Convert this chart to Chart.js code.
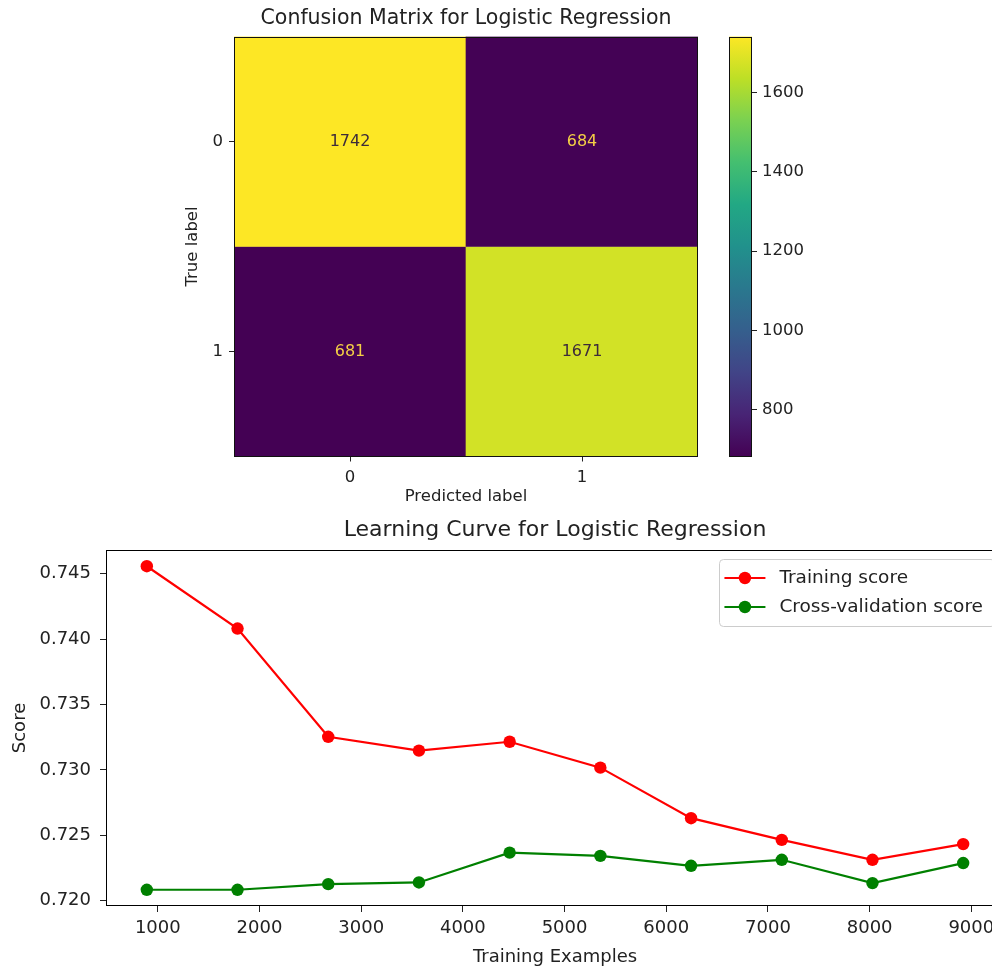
<!DOCTYPE html>
<html>
<head>
<meta charset="utf-8">
<script src="https://cdn.jsdelivr.net/npm/chart.js@4.4.1/dist/chart.umd.min.js"></script>
<style>
  html, body { margin: 0; padding: 0; background: #fff; width: 992px; height: 972px; overflow: hidden; }
  canvas { position: absolute; display: block; }
  #cm { left: 0; top: 0; }
  #cb { left: 700px; top: 0; }
  #lc { left: 0; top: 505px; }
</style>
</head>
<body>
<canvas id="cm" width="720" height="515"></canvas>
<canvas id="cb" width="110" height="515"></canvas>
<canvas id="lc" width="1012" height="467"></canvas>
<script>
// ---- confusion matrix ----
const classLabels = ['0', '1'];
const countsTrue0 = [1742, 684];   // true label 0: predicted 0, predicted 1
const countsTrue1 = [681, 1671];   // true label 1: predicted 0, predicted 1
const colorbarTicks = [800, 1000, 1200, 1400, 1600];

// ---- learning curve ----
const trainSizes = [892, 1784, 2676, 3568, 4460, 5352, 6244, 7136, 8028, 8920];
const trainScores = [0.74556, 0.74080, 0.73253, 0.73147, 0.73215, 0.73017, 0.72631, 0.72465, 0.72313, 0.72433];
const cvScores = [0.72084, 0.72084, 0.72127, 0.72140, 0.72368, 0.72343, 0.72267, 0.72313, 0.72135, 0.72288];
const xTickValues = [1000, 2000, 3000, 4000, 5000, 6000, 7000, 8000, 9000];
const yTickValues = [0.720, 0.725, 0.730, 0.735, 0.740, 0.745];

const TEXT = '#222222';
Chart.defaults.font.family = "'DejaVu Sans', sans-serif";
Chart.defaults.color = TEXT;

// viridis colormap stops (0, 0.1, ..., 1)
const VIRIDIS = ['#440154', '#482475', '#414487', '#355f8d', '#2a788e', '#21918c',
                 '#22a884', '#44bf70', '#7ad151', '#bddf26', '#fde725'];
function hexRgb(h) {
  return [1, 3, 5].map(i => parseInt(h.slice(i, i + 2), 16));
}
function viridis(t) {
  t = Math.max(0, Math.min(1, t));
  const p = t * 10, i = Math.min(9, Math.floor(p)), f = p - i;
  const a = hexRgb(VIRIDIS[i]), b = hexRgb(VIRIDIS[i + 1]);
  const c = a.map((v, k) => Math.round(v + (b[k] - v) * f));
  return `rgb(${c[0]},${c[1]},${c[2]})`;
}

const rows = [countsTrue0, countsTrue1];
const vmin = Math.min(...countsTrue0, ...countsTrue1);
const vmax = Math.max(...countsTrue0, ...countsTrue1);

// outline around the plotting area
const frame = {
  id: 'frame',
  afterDraw(chart, args, opts) {
    const a = chart.chartArea, ctx = chart.ctx;
    ctx.save();
    ctx.strokeStyle = opts.color || '#000';
    ctx.lineWidth = opts.width || 1;
    ctx.strokeRect(Math.round(a.left) + 0.5, Math.round(a.top) + 0.5,
                   Math.round(a.right - a.left) - 1, Math.round(a.bottom - a.top) - 1);
    ctx.restore();
  }
};

// count written in the middle of each cell
const cellText = {
  id: 'cellText',
  afterDatasetsDraw(chart) {
    const { ctx, scales: { x, y } } = chart;
    ctx.save();
    ctx.font = '16px "DejaVu Sans"';
    ctx.textAlign = 'center';
    ctx.textBaseline = 'middle';
    const mid = (vmin + vmax) / 2;
    chart.data.datasets.forEach((ds, r) => {
      ds.counts.forEach((v, c) => {
        ctx.fillStyle = v > mid ? '#3d2b3a' : '#f3cf45';
        ctx.fillText(String(v), x.getPixelForValue(c), y.getPixelForValue(r));
      });
    });
    ctx.restore();
  }
};

const tickGrid = (len) => ({
  display: true, drawOnChartArea: false, drawTicks: true, offset: false,
  tickLength: len, tickColor: TEXT, color: TEXT
});

new Chart(document.getElementById('cm'), {
  type: 'bar',
  data: {
    labels: classLabels,
    datasets: rows.map((row, r) => ({
      label: 'True ' + classLabels[r],
      data: row.map(() => [r - 0.5, r + 0.5]),
      counts: row,
      backgroundColor: row.map(v => viridis((v - vmin) / (vmax - vmin))),
      borderWidth: 0,
      borderSkipped: false,
      barPercentage: 1,
      categoryPercentage: 1,
      grouped: false
    }))
  },
  options: {
    responsive: false, animation: false, devicePixelRatio: 1,
    layout: { padding: { left: 173, right: 22, top: 0, bottom: 0 } },
    plugins: {
      legend: { display: false },
      tooltip: { enabled: false },
      title: {
        display: true, text: 'Confusion Matrix for Logistic Regression', fullSize: false,
        color: TEXT, font: { size: 20.5, weight: 'normal' }, padding: { top: 6, bottom: 5.9 }
      },
      frame: { color: '#111', width: 1 }
    },
    scales: {
      x: {
        type: 'category', offset: true,
        grid: tickGrid(5), border: { display: false },
        ticks: { font: { size: 16.5 }, padding: 6, maxRotation: 0 },
        title: { display: true, text: 'Predicted label', font: { size: 16.5 }, padding: { top: 0, bottom: 8 } },
        afterFit(s) { s.height = 58.5; }
      },
      y: {
        type: 'linear', reverse: true, min: -0.5, max: 1.5,
        afterBuildTicks(s) { s.ticks = classLabels.map((_, i) => ({ value: i })); },
        grid: tickGrid(5), border: { display: false },
        ticks: { font: { size: 16.5 }, padding: 6, callback: v => classLabels[v] },
        title: { display: true, text: 'True label', font: { size: 16.5 }, padding: { top: 10, bottom: 0 } },
        afterFit(s) { s.width = 61; }
      }
    }
  },
  plugins: [cellText, frame]
});

// colour bar
new Chart(document.getElementById('cb'), {
  type: 'bar',
  data: {
    labels: [''],
    datasets: [{
      data: [[vmin, vmax]],
      backgroundColor(c) {
        const ch = c.chart;
        if (!ch.chartArea) return VIRIDIS[0];
        const y0 = ch.scales.y.getPixelForValue(vmin), y1 = ch.scales.y.getPixelForValue(vmax);
        const g = ch.ctx.createLinearGradient(0, y0, 0, y1);
        VIRIDIS.forEach((col, i) => g.addColorStop(i / 10, col));
        return g;
      },
      borderWidth: 0, borderSkipped: false, barPercentage: 1, categoryPercentage: 1
    }]
  },
  options: {
    responsive: false, animation: false, devicePixelRatio: 1,
    layout: { padding: { left: 29, right: 0, top: 36.5, bottom: 58.5 } },
    plugins: { legend: { display: false }, tooltip: { enabled: false }, frame: { color: '#111', width: 1 } },
    scales: {
      x: { display: false },
      y: {
        position: 'right', min: vmin, max: vmax,
        afterBuildTicks(s) { s.ticks = colorbarTicks.map(v => ({ value: v })); },
        grid: tickGrid(5), border: { display: false },
        ticks: { font: { size: 16.5 }, padding: 5, callback: v => String(v) },
        afterFit(s) { s.width = 58; }
      }
    }
  },
  plugins: [frame]
});

// legend box with line + marker handles
const lineLegend = {
  id: 'lineLegend',
  afterDraw(chart, args, o) {
    const { ctx, chartArea: a } = chart;
    const items = chart.data.datasets;
    ctx.save();
    ctx.font = `${o.fontSize}px "DejaVu Sans"`;
    const textW = Math.max(...items.map(d => ctx.measureText(d.label).width));
    const w = o.padX + o.handle + o.gap + textW + o.padRight;
    const h = o.padY * 2 + o.rowH * items.length;
    const right = a.right - o.inset, left = right - w, top = a.top + o.inset;
    ctx.beginPath();
    ctx.roundRect(Math.round(left) + 0.5, Math.round(top) + 0.5, w, h, 4);
    ctx.fillStyle = 'rgba(255,255,255,0.8)';
    ctx.fill();
    ctx.strokeStyle = '#cccccc';
    ctx.lineWidth = 1;
    ctx.stroke();
    items.forEach((d, i) => {
      const cy = top + o.padY + o.rowH * (i + 0.5);
      const x0 = left + o.padX;
      ctx.strokeStyle = d.borderColor;
      ctx.lineWidth = d.borderWidth;
      ctx.beginPath(); ctx.moveTo(x0, cy); ctx.lineTo(x0 + o.handle, cy); ctx.stroke();
      ctx.fillStyle = d.pointBackgroundColor;
      ctx.beginPath(); ctx.arc(x0 + o.handle / 2, cy, d.pointRadius, 0, Math.PI * 2); ctx.fill();
      ctx.fillStyle = TEXT;
      ctx.textAlign = 'left';
      ctx.textBaseline = 'middle';
      ctx.fillText(d.label, x0 + o.handle + o.gap, cy);
    });
    ctx.restore();
  }
};

const series = (label, ys, color) => ({
  label,
  data: trainSizes.map((x, i) => ({ x, y: ys[i] })),
  borderColor: color, backgroundColor: color, pointBackgroundColor: color,
  pointBorderWidth: 0, pointRadius: 6.2, borderWidth: 2.2, tension: 0
});

new Chart(document.getElementById('lc'), {
  type: 'line',
  data: {
    datasets: [
      series('Training score', trainScores, '#ff0000'),
      series('Cross-validation score', cvScores, '#008000')
    ]
  },
  options: {
    responsive: false, animation: false, devicePixelRatio: 1,
    layout: { padding: { left: 0, right: 8, top: 0, bottom: 0 } },
    plugins: {
      legend: { display: false },
      tooltip: { enabled: false },
      title: {
        display: true, text: 'Learning Curve for Logistic Regression', fullSize: false,
        color: TEXT, font: { size: 22, weight: 'normal' }, padding: { top: 11.8, bottom: 6.8 }
      },
      frame: { color: '#000', width: 1 },
      lineLegend: { fontSize: 18.5, padX: 5, handle: 41, gap: 14, padRight: 12, padY: 4.5, rowH: 29, inset: 9 }
    },
    scales: {
      x: {
        type: 'linear', min: 490.6, max: 9321.4,
        afterBuildTicks(s) { s.ticks = xTickValues.map(v => ({ value: v })); },
        grid: tickGrid(6), border: { display: false },
        ticks: { font: { size: 18 }, padding: 5.2, maxRotation: 0, autoSkip: false, callback: v => String(v) },
        title: { display: true, text: 'Training Examples', font: { size: 18 }, padding: { top: 0, bottom: 4.2 } },
        afterFit(s) { s.height = 66; }
      },
      y: {
        type: 'linear', min: 0.7196, max: 0.7468,
        afterBuildTicks(s) { s.ticks = yTickValues.map(v => ({ value: v })); },
        grid: tickGrid(6), border: { display: false },
        ticks: { font: { size: 18 }, padding: 9, callback: v => v.toFixed(3) },
        title: { display: true, text: 'Score', font: { size: 18 }, padding: { top: 10, bottom: 0 } },
        afterFit(s) { s.width = 106; }
      }
    }
  },
  plugins: [frame, lineLegend]
});
</script>
</body>
</html>
